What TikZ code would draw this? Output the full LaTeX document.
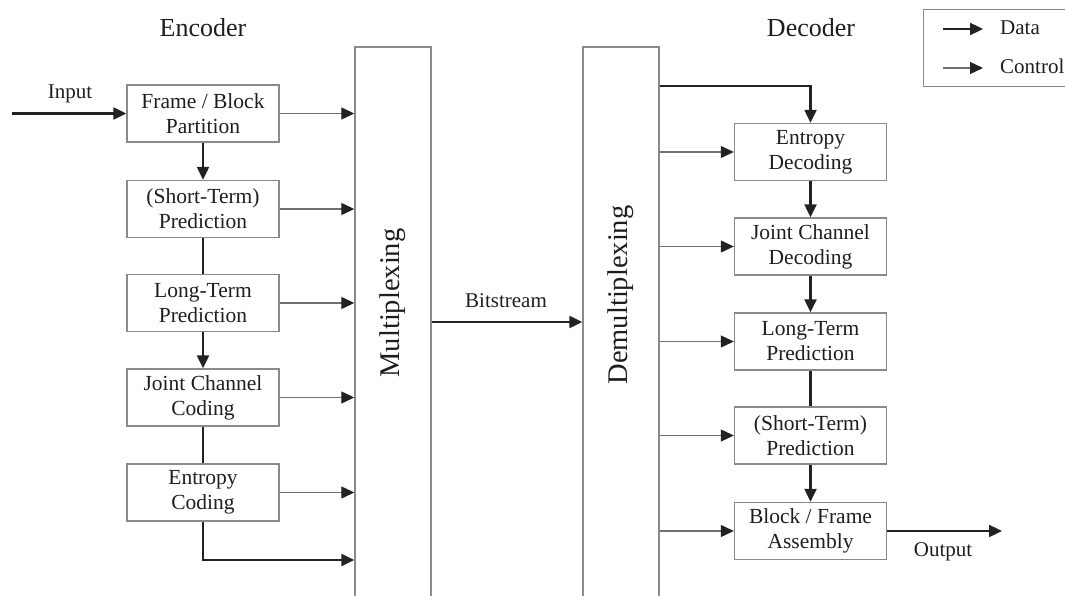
\documentclass[tikz,border=0pt]{standalone}
\usepackage{fontspec}
\setmainfont{Liberation Serif}
\usetikzlibrary{arrows.meta}
\definecolor{boxline}{HTML}{8A8A8A}
\definecolor{ctrlline}{HTML}{707070}
\definecolor{dataline}{HTML}{222222}
\definecolor{ink}{HTML}{1E1E1E}
\begin{document}
\begin{tikzpicture}[x=1pt,y=-1pt,
  font=\fontsize{21.5}{25}\selectfont, text=ink,
  blk/.style={draw=boxline, line width=1.4pt, minimum width=152pt, minimum height=57pt,
    inner sep=0pt, align=center},
  mux/.style={draw=boxline, line width=1.4pt, minimum width=76pt, minimum height=580pt, inner sep=0pt},
  data/.style={draw=dataline, line width=2.3pt, -{Triangle[length=13pt,width=12pt]}},
  dataline/.style={draw=dataline, line width=2.3pt},
  ctrl/.style={draw=ctrlline, line width=1.2pt, -{Triangle[length=13pt,width=12pt,color=dataline]}},
  head/.style={font=\fontsize{26}{30}\selectfont},
  lbl/.style={font=\fontsize{21}{25}\selectfont}]
\clip (0,0) rectangle (1065,596);
\useasboundingbox (0,0) rectangle (1065,596);

% headings
\node[head] (enc) at (203,28) {Encoder};
\node[head] (dec) at (811,28) {Decoder};

% multiplexer / demultiplexer columns (open at the bottom)
\node[mux] (mux) at (393,337) {};
\node[mux] (demux) at (621,337) {};
\node[rotate=90, font=\fontsize{28.5}{30}\selectfont] (muxt) at (393,303) {Multiplexing};
\node[rotate=90, font=\fontsize{28.5}{30}\selectfont] (demuxt) at (621,295) {Demultiplexing};

% encoder chain
\node[blk] (fb)  at (203,113.5) {Frame / Block\\Partition};
\node[blk] (stp) at (203,209)   {(Short-Term)\\Prediction};
\node[blk] (ltp) at (203,303)   {Long-Term\\Prediction};
\node[blk] (jcc) at (203,397.5) {Joint Channel\\Coding};
\node[blk] (ec)  at (203,492.5) {Entropy\\Coding};

% decoder chain
\node[blk] (ed)  at (810.5,152)   {Entropy\\Decoding};
\node[blk] (jcd) at (810.5,246.5) {Joint Channel\\Decoding};
\node[blk] (dlt) at (810.5,341.5) {Long-Term\\Prediction};
\node[blk] (dst) at (810.5,435.5) {(Short-Term)\\Prediction};
\node[blk] (bfa) at (810.5,531)   {Block / Frame\\Assembly};

% free ends and junction heights
\coordinate (in)   at (12,113.5);
\coordinate (out)  at (1002,531);
\coordinate (last) at (0,560);
\coordinate (bs)   at (0,322);
\coordinate (top)  at (0,86);

% encoder data path
\draw[data] (in) -- (fb.west);
\node[lbl] (inl) at (70,94) {Input};
\draw[data] (fb.south) -- (stp.north);
\draw[dataline] (stp.south) -- (ltp.north);
\draw[data] (ltp.south) -- (jcc.north);
\draw[dataline] (jcc.south) -- (ec.north);
\draw[data] (ec.south) |- (mux.west |- last);

% encoder side information
\foreach \b in {fb,stp,ltp,jcc,ec}
  \draw[ctrl] (\b.east) -- (mux.west |- \b.east);

% bitstream
\draw[data] (mux.east |- bs) -- (demux.west |- bs);
\node[lbl] (bsl) at (506,301) {Bitstream};

% decoder data path
\draw[data] (demux.east |- top) -| (ed.north);
\draw[data] (ed.south) -- (jcd.north);
\draw[data] (jcd.south) -- (dlt.north);
\draw[dataline] (dlt.south) -- (dst.north);
\draw[data] (dst.south) -- (bfa.north);
\draw[data] (bfa.east) -- (out);
\node[lbl] (outl) at (943,552) {Output};

% decoder side information
\foreach \b in {ed,jcd,dlt,dst,bfa}
  \draw[ctrl] (demux.east |- \b.west) -- (\b.west);

% legend
\node[draw=boxline, line width=1.4pt, minimum width=160pt, minimum height=77pt, inner sep=0pt,
  anchor=north west] (leg) at (923,9) {};
\coordinate (ld0) at (943,29);
\coordinate (ld1) at (983,29);
\coordinate (lc0) at (943,68);
\coordinate (lc1) at (983,68);
\draw[data] (ld0) -- (ld1);
\draw[ctrl] (lc0) -- (lc1);
\node[lbl, anchor=base west, inner sep=0pt] (ldt) at (1000,35) {Data};
\node[lbl, anchor=base west, inner sep=0pt] (lct) at (1000,74) {Control};
\end{tikzpicture}
\end{document}
